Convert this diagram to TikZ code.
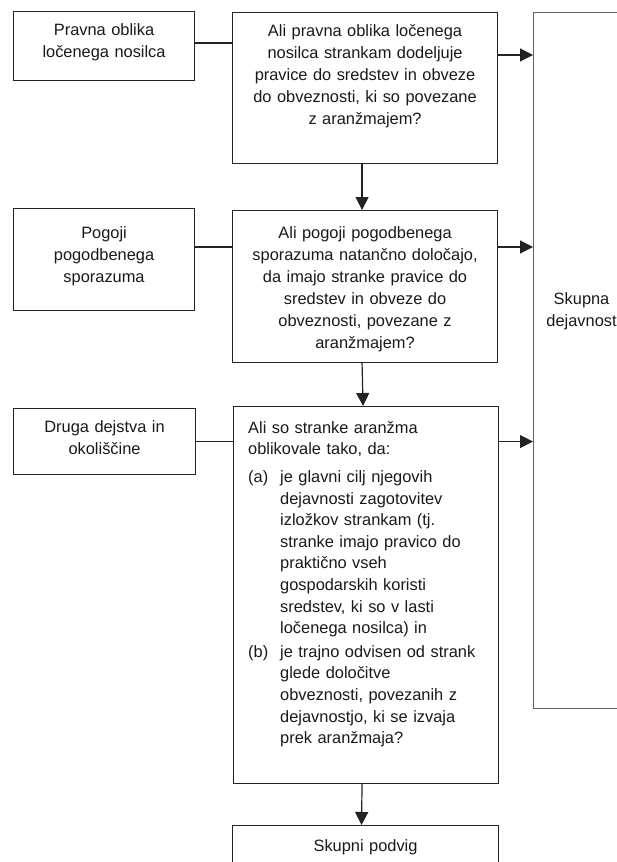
\documentclass[tikz,border=0pt]{standalone}
\usepackage{fontspec}
\setmainfont{Liberation Sans}
\usepackage{xcolor}
\usepackage{tikz}
\usetikzlibrary{arrows.meta}
\definecolor{inkgray}{RGB}{25, 25, 25}
\definecolor{framegray}{RGB}{35, 35, 35}
\definecolor{sidegray}{RGB}{95, 95, 95}

\begin{document}
\begin{tikzpicture}[x=1pt, y=-1pt,
    frame/.style={draw=framegray, line width=1.1pt, anchor=north west, inner sep=0pt},
    caption/.style={anchor=base, inner sep=0pt, text=inkgray, align=center,
        font=\fontsize{16.4}{22}\selectfont},
    link/.style={framegray, line width=1.1pt},
    flow/.style={framegray, line width=1.2pt, -{Triangle[length=13pt, width=13pt]}}]
    \useasboundingbox (0,0) rectangle (617,862);
    \clip (0,0) rectangle (617,862);

    % Left column
    \node[frame, minimum width=181pt, minimum height=69pt] (forma) at (13,11) {};
    \node[caption, text width=181pt] (forma-t) at ([yshift=-24pt]forma.north)
        {Pravna oblika\\ločenega nosilca};
    \node[frame, minimum width=181pt, minimum height=102pt] (pogoji) at (13,208) {};
    \node[caption, text width=181pt] (pogoji-t) at ([yshift=-30pt]pogoji.north)
        {Pogoji\\pogodbenega\\sporazuma};
    \node[frame, minimum width=182pt, minimum height=66pt] (okolisc) at (13,408) {};
    \node[caption, text width=182pt] (okolisc-t) at ([yshift=-24pt]okolisc.north)
        {Druga dejstva in\\okoliščine};

    % Questions
    \node[frame, minimum width=265pt, minimum height=151pt] (vpr1) at (232,12) {};
    \node[caption, text width=265pt] (vpr1-t) at ([yshift=-24pt]vpr1.north)
        {Ali pravna oblika ločenega\\nosilca strankam dodeljuje\\pravice do sredstev in obveze\\do obveznosti, ki so povezane\\z aranžmajem?};
    \node[frame, minimum width=265pt, minimum height=152pt] (vpr2) at (232,210) {};
    \node[caption, text width=265pt] (vpr2-t) at ([yshift=-28pt]vpr2.north)
        {Ali pogoji pogodbenega\\sporazuma natančno določajo,\\da imajo stranke pravice do\\sredstev in obveze do\\obveznosti, povezane z\\aranžmajem?};
    \node[frame, minimum width=265pt, minimum height=377pt] (vpr3) at (233,406) {};
    \node[caption, anchor=base west, align=left, text width=245pt,
        font=\fontsize{16.4}{21.6}\selectfont] (vpr3-t)
        at ([xshift=15pt, yshift=-27pt]vpr3.north west)
        {Ali so stranke aranžma\\
         oblikovale tako, da:\\[6.3pt]
         \makebox[32pt][l]{(a)}je glavni cilj njegovih\\
         \hspace*{32pt}dejavnosti zagotovitev\\
         \hspace*{32pt}izložkov strankam (tj.\\
         \hspace*{32pt}stranke imajo pravico do\\
         \hspace*{32pt}praktično vseh\\
         \hspace*{32pt}gospodarskih koristi\\
         \hspace*{32pt}sredstev, ki so v lasti\\
         \hspace*{32pt}ločenega nosilca) in\\[2pt]
         \makebox[32pt][l]{(b)}je trajno odvisen od strank\\
         \hspace*{32pt}glede določitve\\
         \hspace*{32pt}obveznosti, povezanih z\\
         \hspace*{32pt}dejavnostjo, ki se izvaja\\
         \hspace*{32pt}prek aranžmaja?};

    % Outcomes
    \node[frame, draw=sidegray, minimum width=96pt, minimum height=696pt] (skupna) at (533,12) {};
    \node[caption, text width=96pt] (skupna-t) at ([yshift=-292pt]skupna.north)
        {Skupna\\dejavnost};
    \node[frame, minimum width=266pt, minimum height=60pt] (podvig) at (232,825) {};
    \node[caption, text width=266pt] (podvig-t) at ([yshift=-26pt]podvig.north)
        {Skupni podvig};

    % Connectors
    \coordinate (r1) at ([yshift=-32pt]forma.north east);
    \coordinate (s1) at ([yshift=-43pt]vpr1.north east);
    \coordinate (r2) at ([yshift=-39pt]pogoji.north east);
    \draw[link] (r1) -- (r1 -| vpr1.west);
    \draw[flow] (s1) -- (s1 -| skupna.west);
    \draw[link] (r2) -- (r2 -| vpr2.west);
    \draw[flow] (r2 -| vpr2.east) -- (r2 -| skupna.west);
    \draw[link] (okolisc.east) -- (okolisc.east -| vpr3.west);
    \draw[flow] (okolisc.east -| vpr3.east) -- (okolisc.east -| skupna.west);
    \draw[flow] ([xshift=-3pt]vpr1.south) -- ([xshift=-3pt]vpr2.north);
    \draw[flow] ([xshift=-3pt]vpr2.south) -- ([xshift=-3pt]vpr3.north);
    \draw[flow] ([xshift=-4pt]vpr3.south) -- ([xshift=-4pt]podvig.north);
\end{tikzpicture}
\end{document}
